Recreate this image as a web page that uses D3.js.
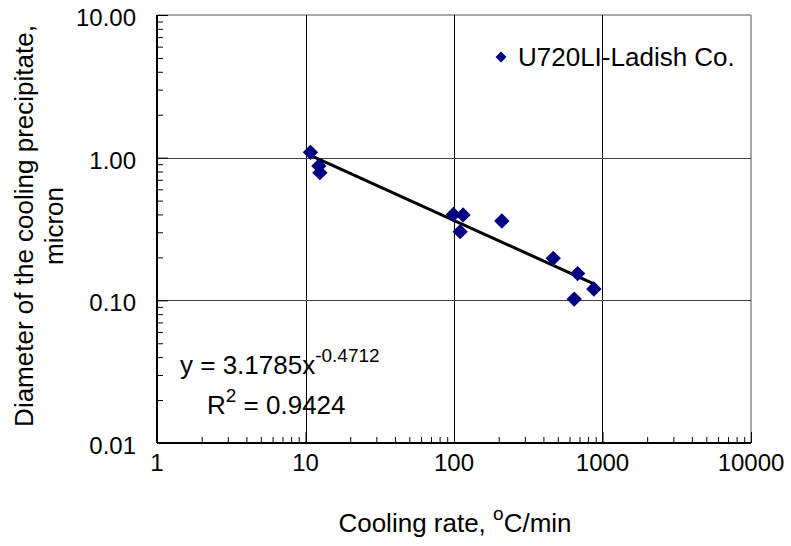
<!DOCTYPE html>
<html>
<head>
<meta charset="utf-8">
<script src="https://cdn.jsdelivr.net/npm/d3@7"></script>
<style>
  html, body { margin: 0; padding: 0; background: #fff; }
  svg { display: block; font-family: "Liberation Sans", Arial, sans-serif; }
</style>
</head>
<body>
<svg id="chart" width="791" height="546"></svg>
<script>
// Cooling rate (°C/min) and diameter of the cooling precipitate (micron)
const coolingRate = [10.8, 12.3, 12.5, 99, 115, 110, 210, 466, 680, 875, 645];
const diameter    = [1.09, 0.875, 0.785, 0.40, 0.397, 0.303, 0.36, 0.197, 0.154, 0.12, 0.102];
const seriesName = "U720LI-Ladish Co.";

// Power-law fit y = a·x^b
const fitA = 3.1785;
const fitB = -0.4712;
const fitR2 = 0.9424;

const xTicks = [1, 10, 100, 1000, 10000];
const xTickLabels = ["1", "10", "100", "1000", "10000"];
const yTicks = [0.01, 0.1, 1, 10];
const yTickLabels = ["0.01", "0.10", "1.00", "10.00"];

const svg = d3.select("#chart");
const plot = { left: 157, right: 751, top: 15, bottom: 443 };

const x = d3.scaleLog().domain([1, 10000]).range([plot.left, plot.right]);
const y = d3.scaleLog().domain([0.01, 10]).range([plot.bottom, plot.top]);

// minor tick values (2..9 in each decade)
function minorTicks(lo, hi) {
  const out = [];
  for (let d = lo; d < hi; d *= 10)
    for (let k = 2; k <= 9; k++) out.push(d * k);
  return out;
}

// plot frame: grey top/right borders
svg.append("line").attr("x1", plot.left).attr("x2", plot.right)
  .attr("y1", plot.top).attr("y2", plot.top)
  .attr("stroke", "#8c8c8c").attr("stroke-width", 1.5);
svg.append("line").attr("x1", plot.right).attr("x2", plot.right)
  .attr("y1", plot.top).attr("y2", plot.bottom)
  .attr("stroke", "#8c8c8c").attr("stroke-width", 1.5);

// gridlines
svg.append("g").selectAll("line").data(xTicks.slice(1, -1)).join("line")
  .attr("x1", d => Math.round(x(d)) + 0.5).attr("x2", d => Math.round(x(d)) + 0.5)
  .attr("y1", plot.top).attr("y2", plot.bottom)
  .attr("stroke", "#000").attr("stroke-width", 1);
svg.append("g").selectAll("line").data(yTicks.slice(1, -1)).join("line")
  .attr("x1", plot.left).attr("x2", plot.right)
  .attr("y1", d => Math.round(y(d)) + 0.5).attr("y2", d => Math.round(y(d)) + 0.5)
  .attr("stroke", "#404040").attr("stroke-width", 1.2);

// bottom axis with inward ticks
const xAxis = d3.axisTop(x).tickValues(minorTicks(1, 10000)).tickSize(6).tickFormat("");
svg.append("g").attr("transform", `translate(0,${plot.bottom})`).call(xAxis)
  .call(g => g.select(".domain").attr("stroke", "#000").attr("stroke-width", 2).attr("d", `M${plot.left},0H${plot.right}`))
  .call(g => g.selectAll(".tick line").attr("stroke", "#000"));
svg.append("g").attr("transform", `translate(0,${plot.bottom})`)
  .call(d3.axisTop(x).tickValues(xTicks).tickSize(11).tickFormat(""))
  .call(g => g.select(".domain").remove())
  .call(g => g.selectAll(".tick line").attr("stroke", "#000"));

// left axis with inward ticks
const yAxis = d3.axisRight(y).tickValues(minorTicks(0.01, 10)).tickSize(6).tickFormat("");
svg.append("g").attr("transform", `translate(${plot.left},0)`).call(yAxis)
  .call(g => g.select(".domain").attr("stroke", "#000").attr("stroke-width", 2).attr("d", `M0,${plot.top}V${plot.bottom}`))
  .call(g => g.selectAll(".tick line").attr("stroke", "#000"));
svg.append("g").attr("transform", `translate(${plot.left},0)`)
  .call(d3.axisRight(y).tickValues(yTicks).tickSize(11).tickFormat(""))
  .call(g => g.select(".domain").remove())
  .call(g => g.selectAll(".tick line").attr("stroke", "#000"));

// tick labels
svg.append("g").selectAll("text").data(xTicks).join("text")
  .attr("x", d => x(d)).attr("y", 471)
  .attr("text-anchor", "middle").attr("font-size", 24)
  .text((d, i) => xTickLabels[i]);
svg.append("g").selectAll("text").data(yTicks).join("text")
  .attr("x", 136).attr("y", d => y(d) + 11)
  .attr("text-anchor", "end").attr("font-size", 24)
  .text((d, i) => yTickLabels[i]);

// fitted trend line
const xMin = d3.min(coolingRate), xMax = d3.max(coolingRate);
const fitPts = [xMin, xMax].map(v => [v, fitA * Math.pow(v, fitB)]);
svg.append("path")
  .attr("d", d3.line().x(d => x(d[0])).y(d => y(d[1]))(fitPts))
  .attr("fill", "none").attr("stroke", "#000").attr("stroke-width", 3);

// data points (diamonds)
svg.append("g").selectAll("path").data(coolingRate).join("path")
  .attr("transform", (d, i) => `translate(${x(d)},${y(diameter[i])}) rotate(45)`)
  .attr("d", d3.symbol().type(d3.symbolSquare).size(118)())
  .attr("fill", "#000080");

// legend
const lg = svg.append("g");
lg.append("path")
  .attr("transform", "translate(501,57) rotate(45)")
  .attr("d", d3.symbol().type(d3.symbolSquare).size(60)())
  .attr("fill", "#000080");
lg.append("text").attr("x", 518).attr("y", 66)
  .attr("font-size", 26).text(seriesName);

// fit equation
const eq = svg.append("text").attr("x", 180).attr("y", 374).attr("font-size", 26);
eq.append("tspan").text(`y = ${fitA}x`);
eq.append("tspan").attr("dy", -12).attr("font-size", 19).text(fitB);
const r2 = svg.append("text").attr("x", 207).attr("y", 414).attr("font-size", 26);
r2.append("tspan").text("R");
r2.append("tspan").attr("dy", -12).attr("font-size", 19).text("2");
r2.append("tspan").attr("dy", 12).text(` = ${fitR2}`);

// axis titles
const xt = svg.append("text").attr("x", 455).attr("y", 532)
  .attr("text-anchor", "middle").attr("font-size", 26);
xt.append("tspan").text("Cooling rate, ");
xt.append("tspan").attr("dy", -12).attr("font-size", 19).text("o");
xt.append("tspan").attr("dy", 12).text("C/min");

const yt = svg.append("text")
  .attr("transform", "translate(33,226) rotate(-90)")
  .attr("text-anchor", "middle").attr("font-size", 26);
yt.append("tspan").attr("x", 0).attr("y", 0).text("Diameter of the cooling precipitate,");
yt.append("tspan").attr("x", 0).attr("y", 30).text("micron");
</script>
</body>
</html>
